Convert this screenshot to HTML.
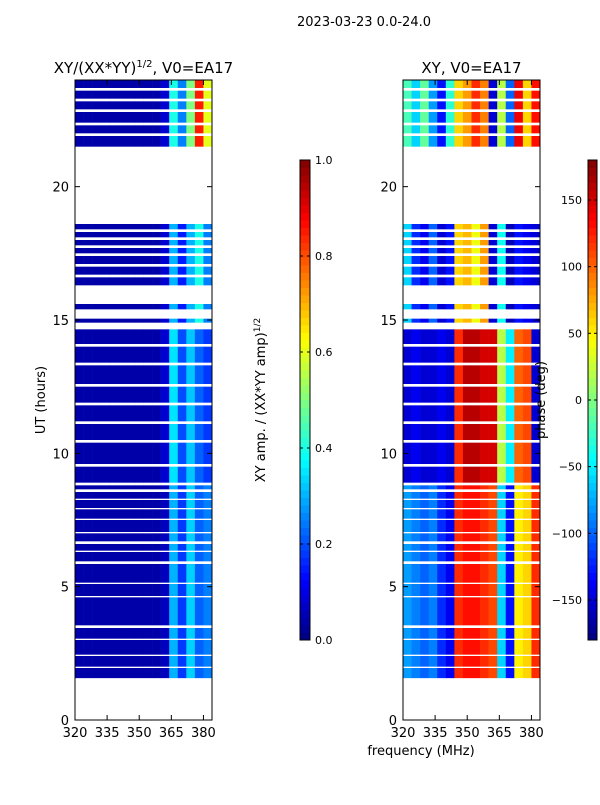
<!DOCTYPE html>
<html><head><meta charset="utf-8"><style>
body{margin:0;background:#fff;width:600px;height:800px;overflow:hidden}
svg text{font-family:"DejaVu Sans","Liberation Sans",sans-serif;fill:#000}
</style></head><body>
<svg id="fig" width="600" height="800"></svg>
<script>
// ---- data ----
const freqEdges=[320,324,328,332,336,340,344,348,352,356,360,364,368,372,376,380,384];
const blockStart=[1.57,2.0,2.45,3.05,3.55,4.65,5.15,5.95,6.35,6.7,7.05,7.55,7.95,8.3,8.65,8.9,9.6,10.5,11.2,11.9,12.6,13.4,14.1,14.9,15.4,16.3,16.7,17.1,17.5,17.8,18.1,18.4,21.5,22.0,22.4,22.9,23.3,23.7];
const blockEnd=[1.95,2.4,3.0,3.45,4.6,5.1,5.85,6.3,6.6,7.0,7.5,7.9,8.25,8.55,8.8,9.5,10.4,11.1,11.8,12.5,13.3,14.0,14.65,15.05,15.6,16.6,17.0,17.4,17.7,18.0,18.3,18.6,21.9,22.3,22.8,23.2,23.6,24.0];
const blockType=["B","B","B","B","B","B","B","B","B","B","B","B","B","B","B","A","A","A","A","A","A","A","A","C","C","C","C","C","C","C","C","C","D","D","D","D","D","D"];
const ampA=[0.04,0.04,0.04,0.04,0.04,0.04,0.04,0.04,0.04,0.04,0.08,0.35,0.2,0.32,0.22,0.18];
const ampB=[0.04,0.04,0.04,0.04,0.04,0.04,0.04,0.04,0.04,0.04,0.06,0.3,0.18,0.33,0.22,0.25];
const ampC=[0.04,0.04,0.04,0.04,0.04,0.04,0.04,0.04,0.04,0.04,0.08,0.3,0.15,0.3,0.4,0.25];
const ampD=[0.04,0.04,0.04,0.04,0.04,0.04,0.04,0.04,0.04,0.04,0.08,0.4,0.25,0.5,0.85,0.6];
const phA=[-150,-140,-150,-150,-140,-150,120,160,160,150,150,20,-50,100,110,-150];
const phB=[-80,-90,-100,-90,-120,-140,120,130,130,120,110,-60,-130,50,60,120];
const phC=[-60,-120,-140,-100,-150,-130,60,70,40,80,-150,-40,-160,-130,-140,-150];
const phD=[-20,-60,-10,-80,-130,-30,60,80,120,90,-150,20,-100,140,60,130];
const ampTicks=[0,0.2,0.4,0.6,0.8,1.0];
const phTicks=[-150,-100,-50,0,50,100,150];
const yTicks=[0,5,10,15,20];
const xTicks=[320,335,350,365,380];
// ---- helpers ----
const NS="http://www.w3.org/2000/svg",svg=document.getElementById('fig');
function el(t,a,p){const e=document.createElementNS(NS,t);for(const k in a)e.setAttribute(k,a[k]);(p||svg).appendChild(e);return e}
function jet(v){v=Math.max(0,Math.min(1,v));const c=x=>Math.round(255*Math.max(0,Math.min(1,1.5-Math.abs(4*v-x))));return `rgb(${c(3)},${c(2)},${c(1)})`}
const y0=720,y1=80;const yS=h=>y0-(h/24)*(y0-y1);
function panel(x0,x1,name,title,ampMode){
  const xS=f=>x0+(f-320)/(384-320)*(x1-x0);
  const g=el('g',{});
  const amps={A:ampA,B:ampB,C:ampC,D:ampD},phs={A:phA,B:phB,C:phC,D:phD};
  for(let b=0;b<blockStart.length;b++){
    const arr=ampMode?amps[blockType[b]]:phs[blockType[b]];
    for(let i=0;i<arr.length;i++){
      const v=ampMode?arr[i]:(arr[i]+180)/360;
      const r=el('rect',{x:xS(freqEdges[i]),y:yS(blockEnd[b]),width:xS(freqEdges[i+1])-xS(freqEdges[i])+0.3,height:yS(blockStart[b])-yS(blockEnd[b]),fill:jet(v)},g);
      
    }
  }
  el('rect',{x:x0,y:y1,width:x1-x0,height:y0-y1,fill:'none',stroke:'#000','stroke-width':1});
  yTicks.forEach(t=>{const y=yS(t);el('line',{x1:x0,x2:x0+5,y1:y,y2:y,stroke:'#000'});el('line',{x1:x1,x2:x1-5,y1:y,y2:y,stroke:'#000'});
    const tx=el('text',{x:x0-6,y:y+5,'text-anchor':'end','font-size':13});tx.textContent=t;});
  xTicks.forEach(t=>{const x=xS(t);el('line',{x1:x,x2:x,y1:y0,y2:y0-5,stroke:'#000'});el('line',{x1:x,x2:x,y1:y1,y2:y1+5,stroke:'#000'});
    const tx=el('text',{x:x,y:y0+17,'text-anchor':'middle','font-size':13});tx.textContent=t;});
  const tt=el('text',{x:(x0+x1)/2,y:73,'text-anchor':'middle','font-size':15});tt.innerHTML=title;
}
panel(75,212,'amplitude-panel','XY/(XX*YY)<tspan font-size="10" dy="-6">1/2</tspan><tspan dy="6">, V0=EA17</tspan>',true);
panel(403,540,'phase-panel','XY, V0=EA17',false);
function cbar(x,w,name,ticks,mn,mx,left){
  const g=el('g',{});
  const n=64;for(let i=0;i<n;i++){el('rect',{x:x,y:160+480*(1-(i+1)/n),width:w,height:480/n+0.5,fill:jet((i+0.5)/n)},g)}
  el('rect',{x:x,y:160,width:w,height:480,fill:'none',stroke:'#000'},g);
  ticks.forEach(t=>{const y=640-(t-mn)/(mx-mn)*480;el('line',{x1:x,x2:x+3,y1:y,y2:y,stroke:'#000'},g);el('line',{x1:x+w,x2:x+w-3,y1:y,y2:y,stroke:'#000'},g);
    const tx=left?el('text',{x:x-6,y:y+4,'font-size':11,'text-anchor':'end'},g):el('text',{x:x+w+5,y:y+4,'font-size':11},g);
    tx.textContent=(mx===1?t.toFixed(1):(t<0?'\u2212'+(-t):t));});
}
cbar(300,10,'amplitude-colorbar',ampTicks,0,1,false);
cbar(588,9,'phase-colorbar',phTicks,-180,180,true);
function txt(s,a,name){const t=el('text',a);t.innerHTML=s;return t}
txt('2023-03-23 0.0-24.0',{x:364,y:26,'text-anchor':'middle','font-size':13},'suptitle');
txt('UT (hours)',{x:45,y:400,'text-anchor':'middle','font-size':13,transform:'rotate(-90 45 400)'},'y-axis-title');
txt('frequency (MHz)',{x:421,y:755,'text-anchor':'middle','font-size':13},'x-axis-title');
txt('XY amp. / (XX*YY amp)<tspan font-size="9" dy="-5">1/2</tspan>',{x:265,y:400,'text-anchor':'middle','font-size':13,transform:'rotate(-90 265 400)'},'amplitude-colorbar-title');
txt('phase (deg)',{x:545,y:400,'text-anchor':'middle','font-size':13,transform:'rotate(-90 545 400)'},'phase-colorbar-title');
</script>
</body></html>
